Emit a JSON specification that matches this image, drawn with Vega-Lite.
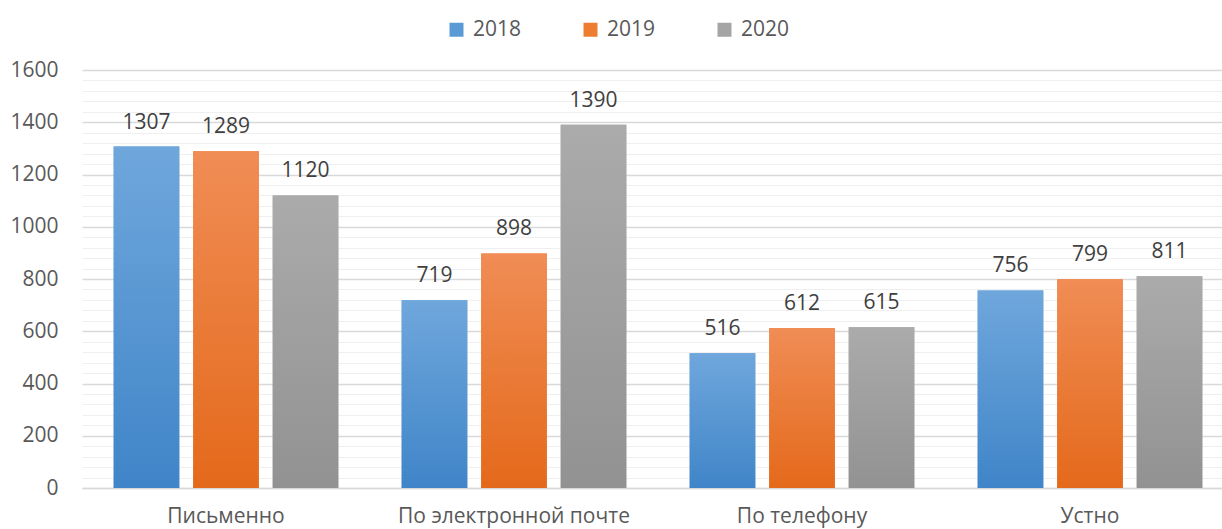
{
  "$schema": "https://vega.github.io/schema/vega-lite/v6.json",
  "autosize": {"type": "none"},
  "padding": {"left": 82, "top": 70, "right": 0, "bottom": 41},
  "width": 1140,
  "height": 418,
  "background": "white",
  "config": {
    "view": {"stroke": null},
    "font": "Open Sans"
  },
  "data": {
    "values": [
      {"category": "Письменно", "year": "2018", "value": 1307},
      {"category": "Письменно", "year": "2019", "value": 1289},
      {"category": "Письменно", "year": "2020", "value": 1120},
      {"category": "По электронной почте", "year": "2018", "value": 719},
      {"category": "По электронной почте", "year": "2019", "value": 898},
      {"category": "По электронной почте", "year": "2020", "value": 1390},
      {"category": "По телефону", "year": "2018", "value": 516},
      {"category": "По телефону", "year": "2019", "value": 612},
      {"category": "По телефону", "year": "2020", "value": 615},
      {"category": "Устно", "year": "2018", "value": 756},
      {"category": "Устно", "year": "2019", "value": 799},
      {"category": "Устно", "year": "2020", "value": 811}
    ]
  },
  "encoding": {
    "x": {
      "field": "category", "type": "nominal", "sort": null,
      "scale": {"range": [0, 1152], "paddingInner": 0.22, "paddingOuter": 0.11},
      "axis": {
        "title": null, "labelAngle": 0, "labelFontSize": 21, "labelColor": "#595959",
        "labelPadding": 17, "ticks": false, "domainColor": "#d9d9d9", "domainWidth": 1.5,
        "labelFont": "Open Sans", "labelLimit": 0
      }
    },
    "xOffset": {
      "field": "year", "type": "nominal",
      "scale": {"paddingInner": 0.175, "paddingOuter": 0}
    },
    "y": {
      "field": "value", "type": "quantitative",
      "scale": {"domain": [0, 1600], "nice": false},
      "axis": {
        "title": null, "domain": false, "ticks": false,
        "values": [0,40,80,120,160,200,240,280,320,360,400,440,480,520,560,600,640,680,720,760,800,840,880,920,960,1000,1040,1080,1120,1160,1200,1240,1280,1320,1360,1400,1440,1480,1520,1560,1600],
        "labelExpr": "datum.value % 200 === 0 ? datum.label : ''",
        "format": "d",
        "gridColor": {"condition": {"test": "datum.value % 200 === 0", "value": "#d9d9d9"}, "value": "#efefef"},
        "gridWidth": {"condition": {"test": "datum.value % 200 === 0", "value": 1.5}, "value": 1},
        "labelFontSize": 21, "labelColor": "#595959", "labelPadding": 24,
        "labelFont": "Open Sans"
      }
    }
  },
  "layer": [
    {
      "mark": {"type": "bar"},
      "encoding": {
        "color": {
          "field": "year", "type": "nominal",
          "scale": {"domain": ["2018", "2019", "2020"], "range": ["#5b9bd5", "#ed7d31", "#a5a5a5"]},
          "legend": {
            "title": null, "orient": "none", "direction": "horizontal",
            "legendX": 364, "legendY": -51,
            "symbolType": "square", "symbolSize": 196, "symbolStrokeWidth": 0,
            "labelFontSize": 21, "labelColor": "#595959", "labelFont": "Open Sans",
            "labelOffset": 6, "columnPadding": 58
          }
        }
      }
    },
    {
      "mark": {"type": "bar"},
      "encoding": {
        "fill": {
          "condition": [
            {"test": "datum.year === '2018'", "value": {"gradient": "linear", "x1": 0, "y1": 0, "x2": 0, "y2": 1, "stops": [{"offset": 0, "color": "#6fa7dc"}, {"offset": 1, "color": "#4085c8"}]}},
            {"test": "datum.year === '2019'", "value": {"gradient": "linear", "x1": 0, "y1": 0, "x2": 0, "y2": 1, "stops": [{"offset": 0, "color": "#f08d55"}, {"offset": 1, "color": "#e4691b"}]}}
          ],
          "value": {"gradient": "linear", "x1": 0, "y1": 0, "x2": 0, "y2": 1, "stops": [{"offset": 0, "color": "#ababab"}, {"offset": 1, "color": "#929292"}]}
        }
      }
    },
    {
      "mark": {"type": "text", "baseline": "alphabetic", "dy": -18, "fontSize": 21, "color": "#404040", "font": "Open Sans"},
      "encoding": {
        "text": {"field": "value", "type": "quantitative"}
      }
    }
  ]
}
